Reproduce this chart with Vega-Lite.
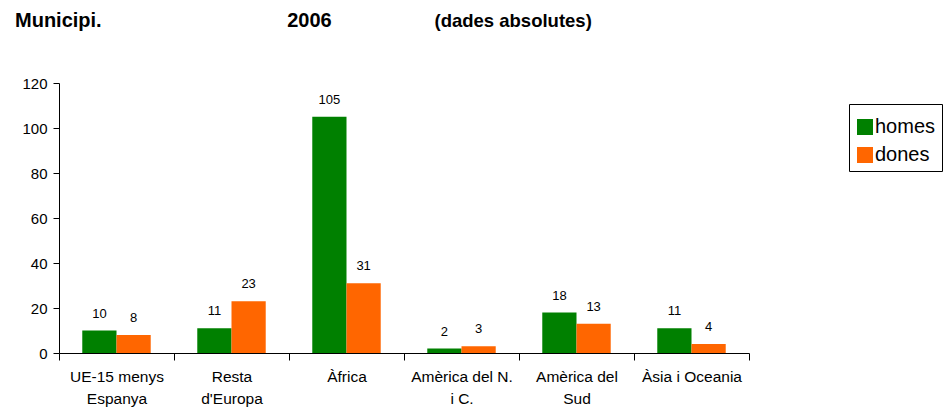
{
  "$schema": "https://vega.github.io/schema/vega-lite/v6.json",
  "autosize": "none",
  "width": 690,
  "height": 270,
  "padding": {"left": 59, "top": 83, "right": 195, "bottom": 57},
  "background": "white",
  "config": {
    "font": "Liberation Sans",
    "view": {"stroke": null}
  },
  "title": {
    "text": "Municipi.\u2003\u2003\u2003\u2003\u2003\u2003\u2003\u2003\u2003\u00a02006",
    "anchor": "start",
    "frame": "group",
    "dx": -44,
    "offset": -20,
    "fontSize": 20,
    "fontWeight": "bold",
    "color": "black"
  },
  "data": {
    "values": [
      {"regio": "UE-15 menys Espanya", "sexe": "homes", "valor": 10},
      {"regio": "UE-15 menys Espanya", "sexe": "dones", "valor": 8},
      {"regio": "Resta d'Europa", "sexe": "homes", "valor": 11},
      {"regio": "Resta d'Europa", "sexe": "dones", "valor": 23},
      {"regio": "Àfrica", "sexe": "homes", "valor": 105},
      {"regio": "Àfrica", "sexe": "dones", "valor": 31},
      {"regio": "Amèrica del N. i C.", "sexe": "homes", "valor": 2},
      {"regio": "Amèrica del N. i C.", "sexe": "dones", "valor": 3},
      {"regio": "Amèrica del Sud", "sexe": "homes", "valor": 18},
      {"regio": "Amèrica del Sud", "sexe": "dones", "valor": 13},
      {"regio": "Àsia i Oceania", "sexe": "homes", "valor": 11},
      {"regio": "Àsia i Oceania", "sexe": "dones", "valor": 4}
    ]
  },
  "encoding": {
    "xOffset": {
      "field": "sexe",
      "type": "nominal",
      "sort": ["homes", "dones"],
      "scale": {"paddingInner": 0, "paddingOuter": 0.68}
    },
    "y": {
      "field": "valor",
      "type": "quantitative",
      "scale": {"domain": [0, 120]},
      "axis": {
        "title": null,
        "values": [0, 20, 40, 60, 80, 100, 120],
        "grid": false,
        "labelFontSize": 15,
        "labelColor": "black",
        "labelPadding": 6,
        "tickSize": 6,
        "tickColor": "black",
        "domainColor": "black"
      }
    }
  },
  "layer": [
    {
      "mark": {"type": "bar"},
      "encoding": {
        "x": {
          "field": "regio",
          "type": "nominal",
          "sort": null,
          "scale": {"paddingInner": 0, "paddingOuter": 0},
          "axis": {
            "title": null,
            "labelAngle": 0,
            "labelFontSize": 15.5,
            "labelColor": "black",
            "labelLineHeight": 22,
            "labelPadding": 9,
            "labelBaseline": "top",
            "tickBand": "extent",
            "tickSize": 7,
            "tickColor": "black",
            "domainColor": "black",
            "labelExpr": "datum.label == 'UE-15 menys Espanya' ? ['UE-15 menys', 'Espanya'] : datum.label == \"Resta d'Europa\" ? ['Resta', \"d'Europa\"] : datum.label == 'Amèrica del N. i C.' ? ['Amèrica del N.', 'i C.'] : datum.label == 'Amèrica del Sud' ? ['Amèrica del', 'Sud'] : datum.label"
          }
        },
        "color": {
          "field": "sexe",
          "type": "nominal",
          "scale": {"domain": ["homes", "dones"], "range": ["#008000", "#FF6600"]},
          "legend": {
            "title": " ",
            "titleFontSize": 1,
            "titlePadding": 6,
            "orient": "none",
            "legendX": 790,
            "legendY": 21,
            "strokeColor": "black",
            "padding": 6,
            "symbolType": "square",
            "symbolSize": 256,
            "symbolStrokeWidth": 0,
            "labelFontSize": 20,
            "labelColor": "black",
            "labelOffset": 0,
            "rowPadding": 8
          }
        }
      }
    },
    {
      "mark": {"type": "text", "baseline": "alphabetic", "dy": -13, "fontSize": 13, "color": "black"},
      "encoding": {
        "x": {
          "field": "regio",
          "type": "nominal",
          "sort": null,
          "axis": {
            "orient": "top",
            "title": "(dades absolutes)",
            "titleFontSize": 18.5,
            "titleFontWeight": "bold",
            "titleColor": "black",
            "titleAnchor": "start",
            "titleAlign": "left",
            "titleBaseline": "alphabetic",
            "titleX": 375,
            "titleY": -57,
            "labels": false,
            "ticks": false,
            "domain": false,
            "grid": false
          }
        },
        "text": {"field": "valor", "type": "quantitative"}
      }
    }
  ],
  "resolve": {"axis": {"x": "independent"}}
}
